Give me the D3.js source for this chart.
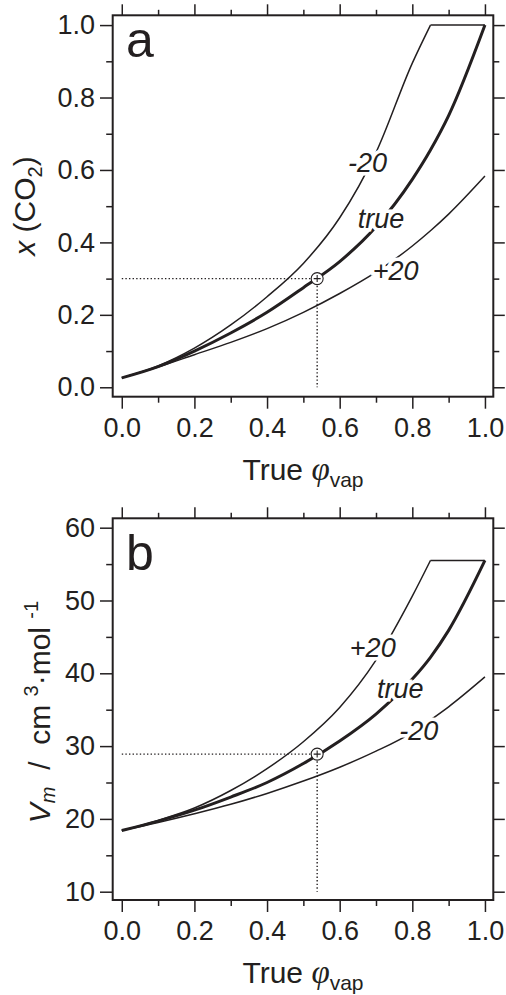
<!DOCTYPE html>
<html>
<head>
<meta charset="utf-8">
<script src="https://cdn.jsdelivr.net/npm/d3@7"></script>
<style>
    body { margin: 0; background: #fff; }
    svg { display: block; font-family: "Liberation Sans", Arial, sans-serif; }
</style>
</head>
<body>
<div id="graph"></div>
<script>
"use strict";

// true vapour fraction grid shared by every curve
const phiGrid = [0, 0.1, 0.2, 0.3, 0.4, 0.5, 0.6, 0.7, 0.8, 0.85, 0.9, 1.0];

// panel a : mole fraction of CO2
const xco2True    = [0.026, 0.057, 0.100, 0.150, 0.207, 0.275, 0.347, 0.443, 0.574, 0.655, 0.750, 1.000];
const xco2Minus20 = [0.026, 0.059, 0.108, 0.172, 0.250, 0.342, 0.468, 0.648, 0.895, 1.000, 1.000, 1.000];
const xco2Plus20  = [0.026, 0.056, 0.090, 0.124, 0.162, 0.207, 0.259, 0.318, 0.390, 0.432, 0.478, 0.583];

// panel b : molar volume, cm3/mol
const vmTrue    = [18.4, 19.7, 21.2, 23.0, 25.0, 27.6, 30.7, 34.4, 39.2, 42.2, 45.9, 55.5];
const vmPlus20  = [18.4, 19.8, 21.5, 23.9, 26.9, 30.6, 35.3, 41.8, 50.6, 55.5, 55.5, 55.5];
const vmMinus20 = [18.4, 19.5, 20.7, 22.0, 23.5, 25.2, 27.1, 29.3, 31.9, 33.6, 35.4, 39.5];

// marked point
const markPhi = 0.538;
const markXco2 = 0.30;
const markVm = 28.9;

// ticks
const phiTicks = [0, 0.2, 0.4, 0.6, 0.8, 1.0];
const phiMinor = [0.1, 0.3, 0.5, 0.7, 0.9];
const xco2Ticks = [0, 0.2, 0.4, 0.6, 0.8, 1.0];
const xco2Minor = [0.1, 0.3, 0.5, 0.7, 0.9];
const vmTicks = [10, 20, 30, 40, 50, 60];
const vmMinor = [15, 25, 35, 45, 55];

// curve labels: [text, phi, value]
const xco2Labels = [["-20", 0.623, 0.594], ["true", 0.650, 0.440], ["+20", 0.691, 0.296]];
const vmLabels = [["+20", 0.628, 42.3], ["true", 0.703, 36.6], ["-20", 0.764, 30.8]];

(function() {
    const ink = "#231f20";
    const svg = d3.select("#graph").append("svg")
        .attr("width", 506)
        .attr("height", 995);

    const panels = [
        {
            letter: "a", letterY: 57,
            top: 15.3, bottom: 396.7,
            yDomain: [-0.026, 1.027], yFloor: 0,
            ticks: xco2Ticks, minor: xco2Minor, fmt: d3.format(".1f"),
            series: [[xco2Minus20, 1.5], [xco2Plus20, 1.5], [xco2True, 3]],
            mark: markXco2, labels: xco2Labels,
            yTitle: "a", yTitleX: 35, yTitleY: 206
        },
        {
            letter: "b", letterY: 570,
            top: 518.3, bottom: 900,
            yDomain: [8.86, 61.29], yFloor: 10,
            ticks: vmTicks, minor: vmMinor, fmt: d3.format("d"),
            series: [[vmPlus20, 1.5], [vmMinus20, 1.5], [vmTrue, 3]],
            mark: markVm, labels: vmLabels,
            yTitle: "b", yTitleX: 50, yTitleY: 712
        }
    ];

    panels.forEach(drawPanel);

    function drawPanel(p) {
        const left = 112.7, right = 493.3;
        const x = d3.scaleLinear().domain([-0.025, 1.023]).range([left, right]);
        const y = d3.scaleLinear().domain(p.yDomain).range([p.bottom, p.top]);
        const g = svg.append("g");

        // axes, all four sides, ticks outside
        addAxis(g, d3.axisBottom(x).tickValues(phiTicks).tickSize(12).tickPadding(9).tickFormat(d3.format(".1f")), 0, p.bottom);
        addAxis(g, d3.axisBottom(x).tickValues(phiMinor).tickSize(6).tickFormat(""), 0, p.bottom);
        addAxis(g, d3.axisTop(x).tickValues(phiTicks).tickSize(11).tickFormat(""), 0, p.top);
        addAxis(g, d3.axisTop(x).tickValues(phiMinor).tickSize(5.5).tickFormat(""), 0, p.top);
        addAxis(g, d3.axisLeft(y).tickValues(p.ticks).tickSize(12.7).tickPadding(5).tickFormat(p.fmt), left, 0);
        addAxis(g, d3.axisLeft(y).tickValues(p.minor).tickSize(6.5).tickFormat(""), left, 0);
        addAxis(g, d3.axisRight(y).tickValues(p.ticks).tickSize(11.5).tickFormat(""), right, 0);
        addAxis(g, d3.axisRight(y).tickValues(p.minor).tickSize(6).tickFormat(""), right, 0);

        g.append("rect")
            .attr("x", left)
            .attr("y", p.top)
            .attr("width", right - left)
            .attr("height", p.bottom - p.top)
            .attr("fill", "none")
            .attr("stroke", ink)
            .attr("stroke-width", 2);

        // dotted guide lines to the marked point
        const guides = [
            [[0, p.mark], [markPhi, p.mark]],
            [[markPhi, p.mark], [markPhi, p.yFloor]]
        ];
        g.selectAll(".guide")
            .data(guides)
            .enter()
            .append("line")
                .attr("x1", d => x(d[0][0]))
                .attr("y1", d => y(d[0][1]))
                .attr("x2", d => x(d[1][0]))
                .attr("y2", d => y(d[1][1]))
                .attr("stroke", ink)
                .attr("stroke-width", 1.4)
                .attr("stroke-dasharray", "1.4 2.2");

        const smooth = d3.line().x(d => x(d[0])).y(d => y(d[1])).curve(d3.curveMonotoneX);
        const straight = d3.line().x(d => x(d[0])).y(d => y(d[1]));

        p.series.forEach(function(s) {
            const vals = s[0];
            const pts = phiGrid.map((phi, i) => [phi, vals[i]]);
            const top = d3.max(vals);
            const k = vals.findIndex(v => v >= top);
            g.append("path")
                .attr("d", smooth(pts.slice(0, k + 1)))
                .attr("fill", "none")
                .attr("stroke", ink)
                .attr("stroke-width", s[1]);
            if (k < pts.length - 1) {
                g.append("path")
                    .attr("d", straight(pts.slice(k)))
                    .attr("fill", "none")
                    .attr("stroke", ink)
                    .attr("stroke-width", 1.5);
            }
        });

        // marker circle with a plus
        const cx = x(markPhi), cy = y(p.mark);
        g.append("circle")
            .attr("cx", cx).attr("cy", cy).attr("r", 6)
            .attr("fill", "#fff")
            .attr("stroke", ink)
            .attr("stroke-width", 1.1);
        g.append("path")
            .attr("d", `M${cx - 3.5},${cy}H${cx + 3.5}M${cx},${cy - 3.5}V${cy + 3.5}`)
            .attr("stroke", ink)
            .attr("stroke-width", 1.1);

        // curve labels, white halo breaks the lines
        g.selectAll(".lab")
            .data(p.labels)
            .enter()
            .append("text")
                .attr("x", d => x(d[1]))
                .attr("y", d => y(d[2]))
                .attr("font-size", 27)
                .attr("font-style", "italic")
                .attr("fill", ink)
                .attr("stroke", "#fff")
                .attr("stroke-width", 7)
                .attr("paint-order", "stroke")
                .text(d => d[0]);

        g.append("text")
            .attr("x", 126)
            .attr("y", p.letterY)
            .attr("font-size", 50)
            .attr("fill", ink)
            .text(p.letter);

        // x title
        const xt = g.append("text")
            .attr("x", 303)
            .attr("y", p.bottom + 83)
            .attr("text-anchor", "middle")
            .attr("font-size", 30)
            .attr("fill", ink);
        xt.append("tspan").text("True ");
        xt.append("tspan")
            .attr("font-family", "'Liberation Serif', serif")
            .attr("font-style", "italic")
            .attr("font-size", 33)
            .text("φ");
        xt.append("tspan").attr("font-size", 21).attr("dy", 7).text("vap");

        // y title
        const yt = g.append("text")
            .attr("transform", `translate(${p.yTitleX},${p.yTitleY}) rotate(-90)`)
            .attr("text-anchor", "middle")
            .attr("font-size", 30)
            .attr("fill", ink);
        if (p.yTitle === "a") {
            yt.append("tspan").attr("font-style", "italic").text("x");
            yt.append("tspan").text(" (CO");
            yt.append("tspan").attr("font-size", 20).attr("dy", 7).text("2");
            yt.append("tspan").attr("dy", -7).text(")");
        } else {
            yt.append("tspan").attr("font-style", "italic").text("V");
            yt.append("tspan").attr("font-style", "italic").attr("font-size", 20).attr("dy", 5).text("m");
            yt.append("tspan").attr("dy", -5).attr("xml:space", "preserve").text("  /  cm ");
            yt.append("tspan").attr("font-size", 20).attr("dy", -12).text("3");
            yt.append("tspan").attr("dy", 12).text("·mol ");
            yt.append("tspan").attr("font-size", 20).attr("dy", -12).text("-1");
        }
    }

    function addAxis(g, axis, tx, ty) {
        const a = g.append("g")
            .attr("transform", "translate(" + tx + "," + ty + ")")
            .call(axis);
        a.select(".domain").remove();
        a.selectAll("line").attr("stroke", ink).attr("stroke-width", 1.5);
        a.selectAll("text")
            .attr("fill", ink)
            .style("font-size", "27px")
            .style("font-family", "'Liberation Sans', Arial, sans-serif");
    }
})();
</script>
</body>
</html>
